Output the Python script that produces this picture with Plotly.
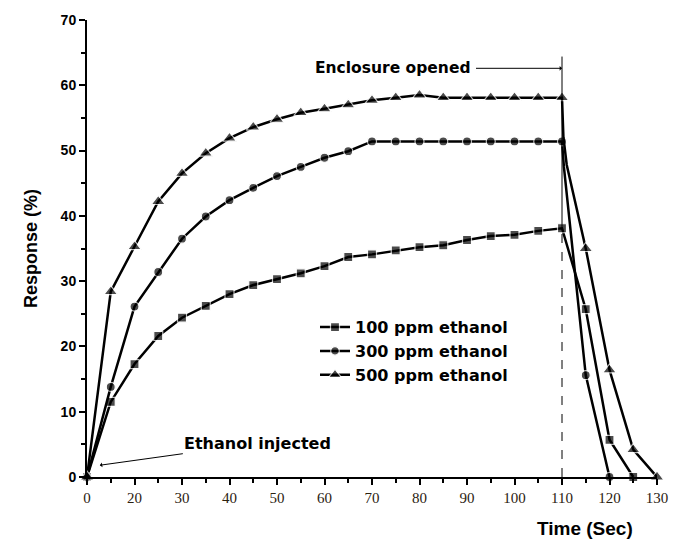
import plotly.graph_objects as go

# ---- data (x in plotted axis position; tick labels are relabelled below) ----
time_rise = [0, 5, 10, 15, 20, 25, 30, 35, 40, 45, 50, 55, 60, 65, 70, 75, 80, 85, 90, 95, 100]

resp_100_rise = [0, 11.5, 17.3, 21.6, 24.4, 26.2, 28.0, 29.4, 30.3, 31.2, 32.3, 33.7, 34.1,
                 34.7, 35.2, 35.5, 36.3, 36.9, 37.1, 37.7, 38.1]
resp_300_rise = [0, 13.8, 26.1, 31.4, 36.5, 39.9, 42.4, 44.3, 46.1, 47.5, 48.9, 49.9, 51.4,
                 51.4, 51.4, 51.4, 51.4, 51.4, 51.4, 51.4, 51.4]
resp_500_rise = [0, 28.4, 35.3, 42.2, 46.5, 49.6, 51.9, 53.6, 54.8, 55.8, 56.4, 57.0, 57.7,
                 58.1, 58.5, 58.1, 58.1, 58.1, 58.1, 58.1, 58.1]

time_100_decay = [105, 110, 115]
resp_100_decay = [25.7, 5.7, 0]
time_300_decay = [100.4, 105, 110]
resp_300_decay = [47.5, 15.6, 0]
time_500_decay = [100.3, 101, 105, 110, 115, 120]
resp_500_decay = [52.0, 47.8, 35.0, 16.4, 4.2, 0]
marked_500_decay = [False, False, True, True, True, True]
marked_300_decay = [False, True, True]
marked_100_decay = [True, True, True]

tick_positions = [0, 10, 20, 30, 40, 50, 60, 70, 80, 90, 100, 110, 120]
tick_labels = ["0", "20", "30", "40", "50", "60", "70", "80", "90", "100", "110", "120", "130"]

series_names = ["100 ppm ethanol", "300 ppm ethanol", "500 ppm ethanol"]
opened_at = 100

FONT = "Arial, Liberation Sans, sans-serif"
WIDE = "DejaVu Sans, sans-serif"

fig = go.Figure()

series = [
    (series_names[0], time_rise + time_100_decay, resp_100_rise + resp_100_decay,
     [True] * len(time_rise) + marked_100_decay, "square", 9),
    (series_names[1], time_rise + time_300_decay, resp_300_rise + resp_300_decay,
     [True] * len(time_rise) + marked_300_decay, "circle", 9),
    (series_names[2], time_rise + time_500_decay, resp_500_rise + resp_500_decay,
     [True] * len(time_rise) + marked_500_decay, "triangle-up", 12),
]

for name, xs, ys, marks, sym, sz in series:
    fig.add_trace(go.Scatter(
        x=xs, y=ys, name=name, mode="lines+markers",
        line=dict(color="black", width=2.5),
        marker=dict(symbol=sym, size=[sz if m else 0 for m in marks], color="black",
                    line=dict(color="white", width=1.2)),
        cliponaxis=False,
    ))

# vertical marker line at the moment the enclosure is opened
fig.add_shape(type="line", xref="x", yref="y", x0=opened_at, x1=opened_at, y0=0, y1=38,
              line=dict(color="black", width=1, dash="dash"))
fig.add_shape(type="line", xref="x", yref="y", x0=opened_at, x1=opened_at, y0=38, y1=64.4,
              line=dict(color="black", width=1))

fig.add_annotation(x=opened_at, y=62.6, xref="x", yref="y", ax=-170, ay=0,
                   text="Enclosure opened", showarrow=True, arrowhead=1, arrowsize=0.8,
                   arrowwidth=1, arrowcolor="black", borderpad=6,
                   font=dict(family=WIDE, size=15.5, color="black", weight="bold"))
fig.add_annotation(x=2.7, y=1.8, xref="x", yref="y", ax=158, ay=-22,
                   text="Ethanol injected", showarrow=True, arrowhead=1, arrowsize=0.8,
                   arrowwidth=1, arrowcolor="black",
                   font=dict(family=WIDE, size=16, color="black", weight="bold"))
fig.add_annotation(x=0.874, y=-0.113, xref="paper", yref="paper", showarrow=False,
                   text="Time (Sec)", xanchor="center", yanchor="middle",
                   font=dict(family=FONT, size=19, color="black", weight="bold"))

fig.update_layout(
    width=681, height=543,
    margin=dict(l=87, r=24, t=20, b=66),
    paper_bgcolor="white", plot_bgcolor="white",
    showlegend=True,
    legend=dict(x=0.40, y=0.365, xanchor="left", yanchor="top",
                bgcolor="rgba(0,0,0,0)", borderwidth=0, tracegroupgap=0,
                font=dict(family=WIDE, size=16, color="black", weight="bold")),
    xaxis=dict(range=[0, 120], tickmode="array", tickvals=tick_positions, ticktext=tick_labels,
               showgrid=False, zeroline=False, showline=True, linecolor="black", linewidth=2,
               ticks="outside", ticklen=6, tickwidth=2, tickcolor="black",
               minor=dict(dtick=5, ticks="outside", ticklen=4, tickwidth=1.5, tickcolor="black"),
               tickfont=dict(family="Liberation Serif, Times New Roman, serif", size=15,
                             color="#2b2110")),
    yaxis=dict(range=[0, 70], dtick=10, showgrid=False, zeroline=False, showline=True,
               linecolor="black", linewidth=2, ticks="outside", ticklen=6, tickwidth=2,
               tickcolor="black",
               minor=dict(dtick=5, ticks="outside", ticklen=4, tickwidth=1.5, tickcolor="black"),
               tickfont=dict(family=FONT, size=14, color="black", weight="bold"),
               title=dict(text="Response (%)", standoff=18,
                          font=dict(family=FONT, size=18, color="black", weight="bold"))),
)

fig.write_html("out.html")
